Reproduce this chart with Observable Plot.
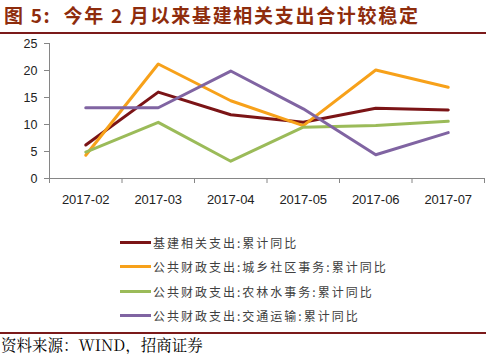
<!DOCTYPE html>
<html><head><meta charset="utf-8">
<script src="https://cdn.jsdelivr.net/npm/d3@7"></script>
<script src="https://cdn.jsdelivr.net/npm/@observablehq/plot@0.6"></script>
<style>
body{margin:0;width:486px;height:354px;position:relative;background:#fff;overflow:hidden;font-family:"Noto Sans CJK SC",sans-serif;}
#title{position:absolute;left:4px;top:3px;font-size:19px;font-weight:bold;color:#8E2C0C;white-space:pre;line-height:24px;letter-spacing:1.7px;}
#tline{position:absolute;left:0;top:32px;width:486px;height:2px;background:#7B1A1A;}
#chart{position:absolute;left:0;top:35px;}
#legend{position:absolute;left:120px;top:230px;}
.row{height:24.5px;display:flex;align-items:center;font-size:12px;color:#404040;letter-spacing:2px;white-space:nowrap;}
.sw{width:31px;height:3px;margin-right:2px;}
#bline{position:absolute;left:0;top:332px;width:486px;height:1.5px;background:#7B1A1A;}
#source{position:absolute;left:1px;top:335px;font-size:15.5px;line-height:18px;font-family:"Noto Serif CJK SC","Noto Sans CJK SC",serif;color:#000;white-space:nowrap;}
</style></head><body>
<div id="title">图 5:  今年 2 月以来基建相关支出合计较稳定</div>
<div id="tline"></div>
<div id="chart"></div>
<div id="legend"></div>
<div id="bline"></div>
<div id="source">资料来源：WIND，招商证券</div>
<script>
const months = ["2017-02","2017-03","2017-04","2017-05","2017-06","2017-07"];
const seriesNames = ["基建相关支出:累计同比","公共财政支出:城乡社区事务:累计同比","公共财政支出:农林水事务:累计同比","公共财政支出:交通运输:累计同比"];
const infra = [6.2, 16.0, 11.8, 10.4, 13.0, 12.7];
const urban = [4.3, 21.2, 14.4, 9.8, 20.1, 16.9];
const agri = [4.9, 10.4, 3.2, 9.5, 9.8, 10.6];
const transport = [13.1, 13.1, 19.9, 12.9, 4.4, 8.5];
const yTicks = [0, 5, 10, 15, 20, 25];
const colors = ["#7B1416", "#F7A11A", "#9BBB59", "#8064A2"];

const allSeries = [infra, urban, agri, transport];
const data = [];
allSeries.forEach((vals, s) => vals.forEach((v, i) => data.push({s: seriesNames[s], i: i + 0.5, v})));

const boundaries = d3.range(months.length + 1);
const centers = months.map((m, i) => i + 0.5);

const plot = Plot.plot({
  width: 486, height: 180,
  marginTop: 8, marginBottom: 37, marginLeft: 49, marginRight: 2,
  style: {fontFamily: "'Liberation Sans', Arial, sans-serif", fontSize: "12px", color: "#333"},
  x: {type: "linear", domain: [0, months.length], axis: null, label: null},
  y: {domain: [0, 25], axis: null, label: null},
  color: {domain: seriesNames, range: colors},
  marks: [
    Plot.ruleY([0], {stroke: "#868686"}),
    Plot.ruleX([0], {y1: 0, y2: 25, stroke: "#868686"}),
    Plot.axisX({ticks: boundaries, tickFormat: () => "", tickSize: 5, stroke: "#868686", label: null}),
    Plot.axisX({ticks: centers, tickFormat: d => months[Math.floor(d)], tickSize: 0, tickPadding: 16, fill: "#222", fontSize: 13, label: null, style:"letter-spacing:0.3px"}),
    Plot.axisY({ticks: yTicks, tickSize: 5, tickPadding: 7, stroke: "#868686", fill: "#222", fontSize: 12.5, label: null}),
    Plot.line(data, {x: "i", y: "v", z: "s", stroke: "s", strokeWidth: 3}),
  ]
});
document.getElementById("chart").appendChild(plot);

const legend = document.getElementById("legend");
seriesNames.forEach((n, k) => {
  const r = document.createElement("div"); r.className = "row";
  const sw = document.createElement("div"); sw.className = "sw"; sw.style.background = colors[k];
  const t = document.createElement("span"); t.textContent = n;
  r.appendChild(sw); r.appendChild(t); legend.appendChild(r);
});
</script>
</body></html>
